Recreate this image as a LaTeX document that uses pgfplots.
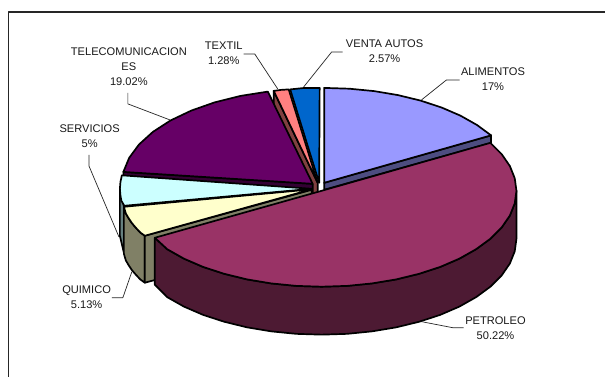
\documentclass[border=0pt]{standalone}
\usepackage{fontspec}
\setmainfont{Liberation Sans}
\usepackage{pgfplots}
\pgfplotsset{compat=1.18}
\definecolor{alim}{HTML}{9999FF}
\definecolor{alimd}{HTML}{4D4D80}
\definecolor{petro}{HTML}{993366}
\definecolor{petrod}{HTML}{4D1A33}
\definecolor{quim}{HTML}{FFFFCC}
\definecolor{quimd}{HTML}{808066}
\definecolor{serv}{HTML}{CCFFFF}
\definecolor{servd}{HTML}{668080}
\definecolor{tele}{HTML}{660066}
\definecolor{teled}{HTML}{330033}
\definecolor{txtc}{HTML}{FF8080}
\definecolor{txtd}{HTML}{804040}
\definecolor{vent}{HTML}{0066CC}
\tikzset{
  pie/.style={draw=black, line width=1.7pt},
  lead/.style={draw=black!85, line width=0.7pt},
  lab/.style={font=\fontsize{11.1pt}{15pt}\selectfont, align=center, text=black!90, inner sep=0pt},
}
\begin{document}
\begin{tikzpicture}
\begin{axis}[
  width=606pt, height=377pt, scale only axis,
  xmin=0, xmax=606, ymin=0, ymax=377, y dir=reverse,
  hide axis, clip=false,
  every axis plot/.append style={line join=round, mark=none},
]
% page extent
\addplot[draw=none, fill=white] coordinates {(0,0) (606,0) (606,377) (0,377)} -- cycle;
% frame
\addplot[draw=black!85, line width=1.3pt] coordinates {(8.5,377) (8.5,12) (606,12)};
% Alimentos
\addplot[pie, fill=alimd] coordinates {(324.5,183) (491.6,135.5) (491.6,143) (324.5,190)} -- cycle;
\addplot[pie, fill=alim] coordinates {(324.5,183) (324.5,88) (349.7,88.8) (374.5,91.2) (398.4,95.2) (421,100.7) (442,107.6) (461,115.8) (477.6,125.2) (491.6,135.5)} -- cycle;
% Venta autos
\addplot[pie, fill=vent] coordinates {(319.5,183) (320,88) (305,88) (290.5,89.5)} -- cycle;
% Textil
\addplot[pie, fill=txtd] coordinates {(274,91) (318,183) (318,230) (274,138)} -- cycle;
\addplot[pie, fill=txtc] coordinates {(318,183) (289,89.5) (281,90) (274,91)} -- cycle;
% Telecomunicaciones
\addplot[pie, fill=teled] coordinates {(123.5,172.1) (313,184) (313,192) (123.5,180)} -- cycle;
\addplot[pie, fill=tele] coordinates {(313,184) (268.1,91.7) (240.8,96) (214.8,102.5) (191.5,110.7) (170.7,120.6) (153.1,132) (139.2,144.6) (129.3,158) (123.5,172.1)} -- cycle;
% Servicios
\addplot[pie, fill=servd] coordinates {(120,189) (124,206) (124,253) (120,236)} -- cycle;
\addplot[pie, fill=serv] coordinates {(312,189) (122,175.5) (120.6,182) (120,189) (120.6,196) (121.5,201) (124.5,206)} -- cycle;
% Quimico
\addplot[pie, fill=quimd] coordinates {(124,207) (126,213.8) (128.8,218.5) (132,223.3) (136,228) (140.5,232.8) (145,236) (145,283) (140.5,279.8) (136,275) (132,270.3) (128.8,265.5) (126,260.8) (124,254)} -- cycle;
\addplot[pie, fill=quimd] coordinates {(145,236) (312,190) (312,238) (145,283)} -- cycle;
\addplot[pie, fill=quim] coordinates {(312,189.5) (124,207) (126,213.8) (128.8,218.5) (132,223.3) (136,228) (140.5,232.8) (145,236)} -- cycle;
% Petroleo
\addplot[pie, fill=petrod] coordinates {(517,191) (515.3,203.5) (510.4,215.8) (502.2,227.7) (490.9,239) (476.7,249.4) (459.9,258.9) (440.7,267.2) (419.5,274.1) (396.6,279.7) (372.5,283.7) (347.4,286.2) (322,287) (296.6,286.2) (271.5,283.7) (247.4,279.7) (224.5,274.1) (203.3,267.2) (184.1,258.9) (167.3,249.4) (155,238)
 (155,285) (167.3,297.4) (184.1,306.9) (203.3,315.2) (224.5,322.1) (247.4,327.7) (271.5,331.7) (296.6,334.2) (322,335) (347.4,334.2) (372.5,331.7) (396.6,327.7) (419.5,322.1) (440.7,315.2) (459.9,306.9) (476.7,297.4) (490.9,287) (502.2,275.7) (510.4,263.8) (515.3,251.5) (517,239)} -- cycle;
\addplot[pie, fill=petro] coordinates {(322,191) (490.9,143) (502.2,154.3) (510.4,166.2) (515.3,178.5) (517,191) (515.3,203.5) (510.4,215.8) (502.2,227.7) (490.9,239) (476.7,249.4) (459.9,258.9) (440.7,267.2) (419.5,274.1) (396.6,279.7) (372.5,283.7) (347.4,286.2) (322,287) (296.6,286.2) (271.5,283.7) (247.4,279.7) (224.5,274.1) (203.3,267.2) (184.1,258.9) (167.3,249.4) (155,238)} -- cycle;
% leaders
\addplot[lead] coordinates {(304,87) (332,52) (343,52)};
\addplot[lead] coordinates {(278,89) (255,54) (244,54)};
\addplot[lead] coordinates {(170,120) (128,104) (128,93)};
\addplot[lead] coordinates {(422,100) (447,80) (460,80)};
\addplot[lead] coordinates {(422,322) (453,328) (464,328)};
\addplot[lead] coordinates {(132,272) (123,298) (112,298)};
\addplot[lead] coordinates {(119,237) (89,166) (89,155)};
% labels
\node[lab] at (axis cs:493.5,79.5) {ALIMENTOS\\17\%};
\node[lab] at (axis cs:385,51.5) {VENTA AUTOS\\2.57\%};
\node[lab] at (axis cs:224,53.5) {TEXTIL\\1.28\%};
\node[lab] at (axis cs:129,67) {TELECOMUNICACION\\ES\\19.02\%};
\node[lab] at (axis cs:89.7,136.5) {SERVICIOS\\5\%};
\node[lab] at (axis cs:86.7,297.5) {QUIMICO\\5.13\%};
\node[lab] at (axis cs:496,328.5) {PETROLEO\\50.22\%};
\end{axis}
\end{tikzpicture}
\end{document}
